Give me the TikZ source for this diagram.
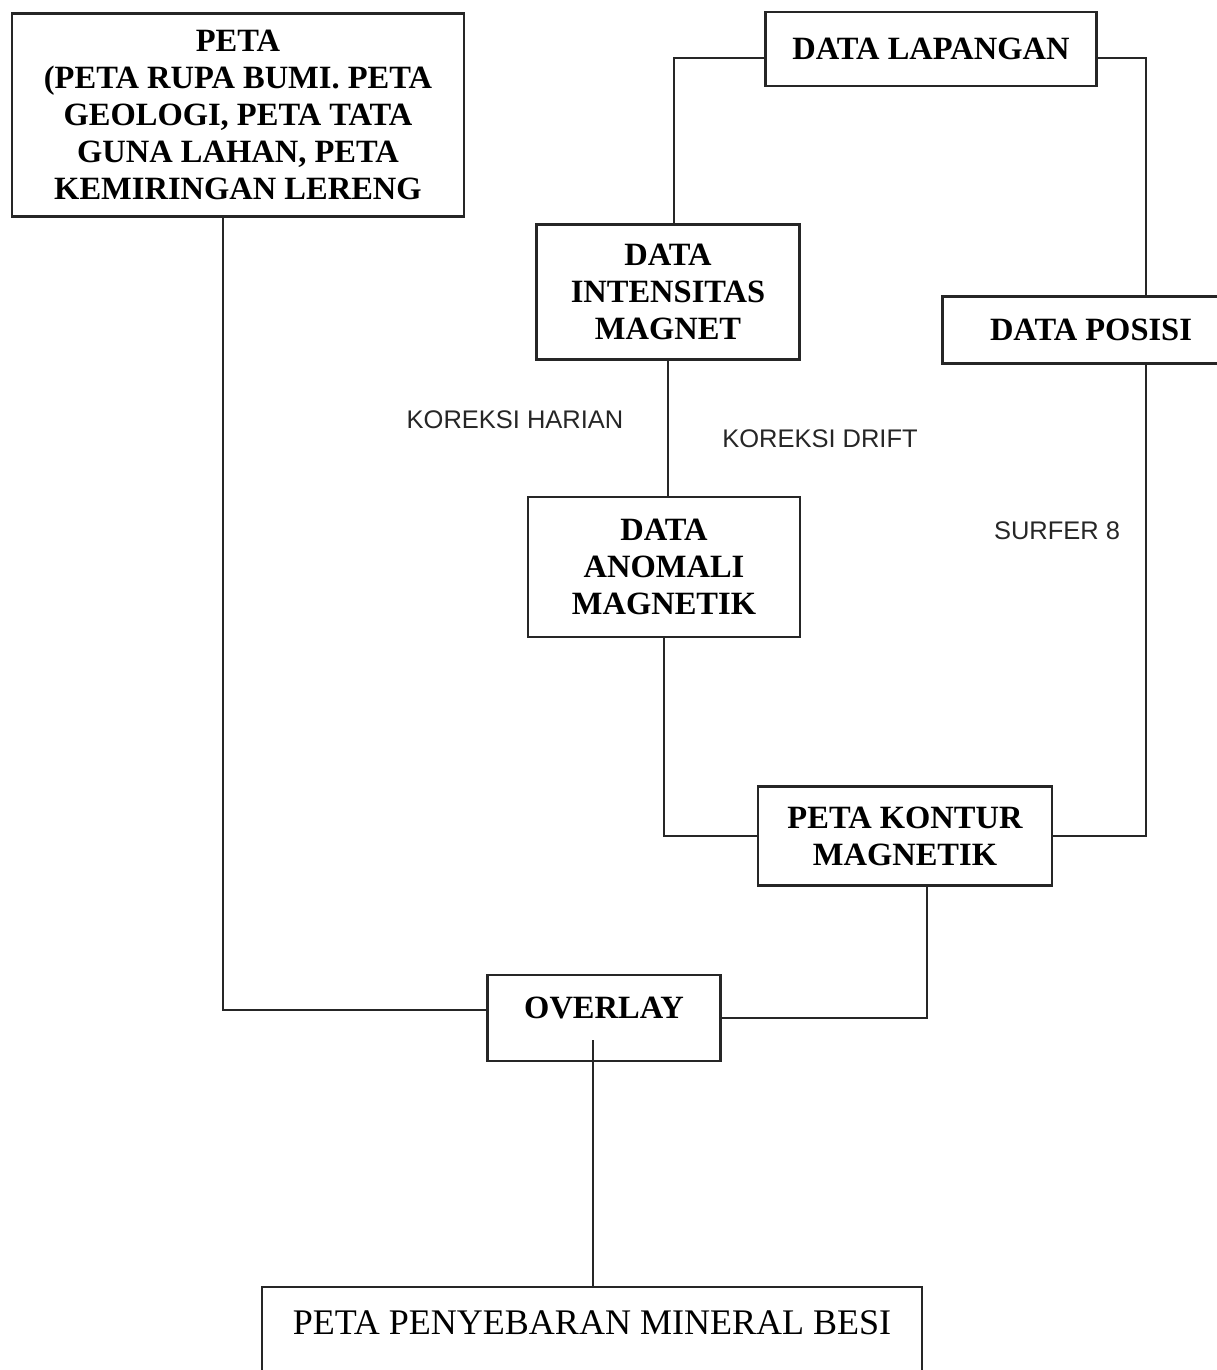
\documentclass[tikz,border=0pt]{standalone}
\usepackage{fontspec}
\setmainfont{Liberation Serif}
\newfontfamily\notefont{Liberation Sans}
\tikzset{%
	block/.style={
		draw=black!85,
		line width=1.2pt,
		align=center,
		inner sep=0pt,
		font=\bfseries\fontsize{18.5}{21}\selectfont
	},
	block-plain/.style={ font=\fontsize{20.5}{24}\selectfont },
	note/.style={ text=black!85, font=\notefont\fontsize{14.5}{16}\selectfont },
	link/.style={ draw=black!85, line width=1.1pt },
}
\begin{document}
\begin{tikzpicture}[x=0.02cm, y=-0.02cm]
\useasboundingbox (0,0) rectangle (1217,1370);

% blocks
\node[block, minimum width=9.04cm, minimum height=4.06cm] (peta) at (238,115)
	{PETA\\(PETA RUPA BUMI. PETA\\GEOLOGI, PETA TATA\\GUNA LAHAN, PETA\\KEMIRINGAN LERENG};
\node[block, minimum width=6.62cm, minimum height=1.48cm] (lapangan) at (931,49) {DATA LAPANGAN};
\node[block, minimum width=5.26cm, minimum height=2.70cm] (intensitas) at (668,292) {DATA\\INTENSITAS\\MAGNET};
\node[block, minimum width=5.94cm, minimum height=1.34cm] (posisi) at (1091,330) {DATA POSISI};
\node[block, minimum width=5.44cm, minimum height=2.80cm] (anomali) at (664,567) {DATA\\ANOMALI\\MAGNETIK};
\node[block, minimum width=5.88cm, minimum height=1.98cm] (kontur) at (905,836) {PETA KONTUR\\MAGNETIK};
\node[block, minimum width=4.66cm, minimum height=1.72cm, text depth=0.4cm] (overlay) at (604,1018) {OVERLAY};
\node[block, block-plain, minimum width=13.2cm, text height=0.94cm, text depth=1.6cm, anchor=north]
	(penyebaran) at (592,1286) {PETA PENYEBARAN MINERAL BESI};

% notes
\foreach \t/\x/\y [count=\i] in {KOREKSI HARIAN/515/420, KOREKSI DRIFT/820/439, SURFER 8/1057/531}
	\node[note] (note-\i) at (\x,\y) {\t};

% connections
\coordinate (jalur-atas) at (674,58);
\coordinate (jalur-kanan) at (1146,58);
\coordinate (jalur-kiri) at (223,1010);
\coordinate (kontur-kaki) at (927,0);
\coordinate (overlay-kaki) at (593,1040);
\draw[link] (jalur-atas -| lapangan.west) -- (jalur-atas) -- (jalur-atas |- intensitas.north);
\draw[link] (jalur-kanan -| lapangan.east) -- (jalur-kanan) -- (jalur-kanan |- posisi.north);
\draw[link] (intensitas.south) -- (intensitas.south |- anomali.north);
\draw[link] (posisi.south -| jalur-kanan) |- (kontur.east);
\draw[link] (anomali.south) |- (kontur.west);
\draw[link] (jalur-kiri |- peta.south) -- (jalur-kiri) -- (jalur-kiri -| overlay.west);
\draw[link] (kontur-kaki |- kontur.south) |- (overlay.east);
\draw[link] (overlay-kaki) -- (overlay-kaki |- penyebaran.north);

\end{tikzpicture}
\end{document}
